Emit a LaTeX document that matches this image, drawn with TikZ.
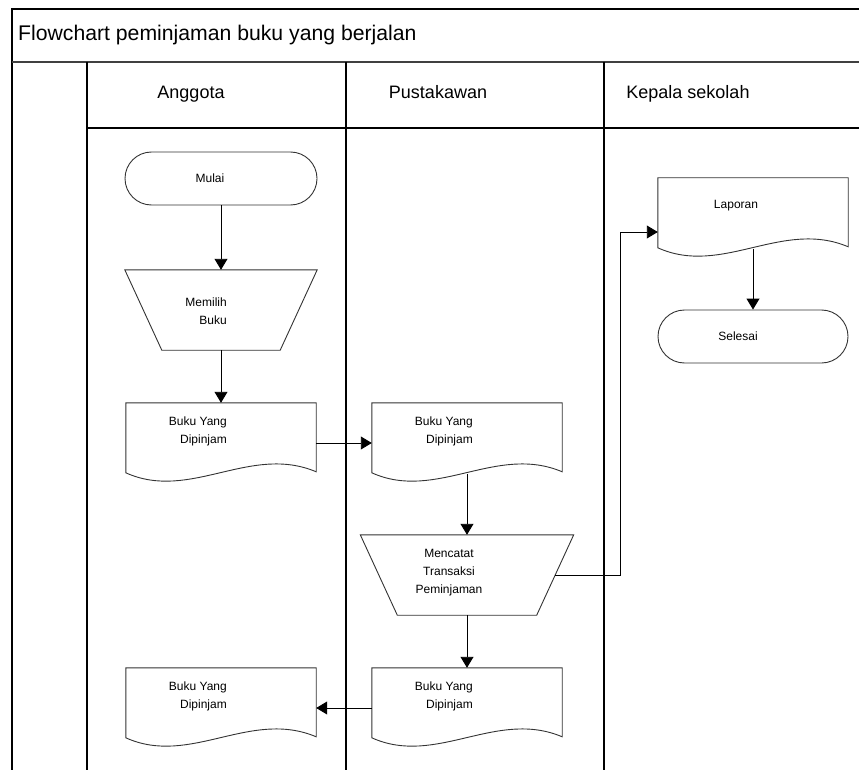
\documentclass[tikz,border=0pt]{standalone}
\usepackage{fontspec}
\setmainfont{Liberation Sans}
\usetikzlibrary{arrows.meta,shapes.misc}

\tikzset{
	lane/.style={line width=1.2pt},
	flow/.style={line width=0.9pt, -{Triangle[length=11pt,width=13pt]}},
	outline/.style={line width=0.9pt, draw=black!80},
	terminal/.style={rounded rectangle, draw=black!80, line width=0.9pt,
		minimum width=192pt, minimum height=53pt, inner sep=0pt},
	shapebox/.style={minimum height=80pt, inner sep=0pt},
	docbox/.style={shapebox, minimum width=190pt},
	txt/.style={font=\fontsize{12}{18}\selectfont, align=right, inner sep=0pt},
	head/.style={font=\fontsize{18}{21}\selectfont, inner sep=0pt}
}

% garis bawah bergelombang untuk simbol dokumen
\newcommand{\docshape}[1]{%
	\draw[outline] (#1.north west) -- (#1.north east) -- ([yshift=-69pt]#1.north east)
	.. controls ([shift={(-66pt,-41pt)}]#1.north east) and ([shift={(-126pt,-99pt)}]#1.north east)
	.. ([yshift=-70pt]#1.north west) -- cycle;}
% operasi manual (trapesium terbalik)
\newcommand{\manualshape}[1]{%
	\draw[outline] (#1.north west) -- (#1.north east) -- ([xshift=-37pt]#1.south east)
	-- ([xshift=37pt]#1.south west) -- cycle;}

\begin{document}
\begin{tikzpicture}[x=1pt, y=-1pt]
	\useasboundingbox (0,0) rectangle (859,770);
	
	% bingkai dan jalur
	\draw[lane] (859,9) -| (12,770);
	\draw[line width=2.5pt, draw=black!75] (12,62) -- (859,62);
	\draw[lane] (87,62) -- (87,770);
	\draw[lane] (346,62) -- (346,770);
	\draw[lane] (604,62) -- (604,770);
	\draw[lane] (87,128) -- (859,128);
	
	\node[anchor=base west, font=\fontsize{21.2}{24}\selectfont, inner sep=0pt] (judul)
		at (18,41) {Flowchart peminjaman buku yang berjalan};
	\node[head, anchor=base] (anggota) at (191,99) {Anggota};
	\node[head, anchor=base] (pustakawan) at (438,99) {Pustakawan};
	\node[head, anchor=base] (kepsek) at (688,99) {Kepala sekolah};
	
	% simbol
	\node[terminal] (mulai) at (221,178.5) {};
	\node[shapebox, minimum width=192pt] (memilih) at (221,310) {};
	\node[docbox] (doc1) at (221,443) {};
	\node[docbox] (doc2) at (467,443) {};
	\node[shapebox, minimum width=213pt] (mencatat) at (467,575) {};
	\node[docbox] (doc3) at (221,708) {};
	\node[docbox] (doc4) at (467,708) {};
	\node[docbox] (lap) at (753,218) {};
	\node[terminal, minimum width=190pt] (selesai) at (753,336.5) {};
	\manualshape{memilih}
	\manualshape{mencatat}
	\docshape{doc1}
	\docshape{doc2}
	\docshape{doc3}
	\docshape{doc4}
	\docshape{lap}
	
	% teks
	\node[txt] (mulaitxt) at (210,178) {Mulai};
	\node[txt, anchor=east] (memilihtxt) at (227,311) {Memilih\\Buku};
	\node[txt, anchor=east] (doc1txt) at (227,431) {Buku Yang\\Dipinjam};
	\node[txt, anchor=east] (doc2txt) at (473,431) {Buku Yang\\Dipinjam};
	\node[txt, align=center] (mencatattxt) at (449,573) {Mencatat\\Transaksi\\Peminjaman};
	\node[txt, anchor=east] (doc3txt) at (227,696) {Buku Yang\\Dipinjam};
	\node[txt, anchor=east] (doc4txt) at (473,696) {Buku Yang\\Dipinjam};
	\node[txt] (laportxt) at (736,206) {Laporan};
	\node[txt] (selesaitxt) at (738,336) {Selesai};
	
	% alur
	\coordinate (sudut) at (620,232);
	\draw[flow] (mulai) -- (memilih);
	\draw[flow] (memilih) -- (doc1);
	\draw[flow] (doc1.east) -- (doc2.west);
	\draw[flow] ([yshift=-71pt]doc2.north) -- (mencatat.north);
	\draw[flow] ([xshift=-18.5pt]mencatat.east) -| (sudut) -- ([yshift=-14pt]lap.west);
	\draw[flow] ([yshift=-71pt]lap.north) -- (selesai.north);
	\draw[flow] (mencatat) -- (doc4);
	\draw[flow] (doc4.west) -- (doc3.east);
	
\end{tikzpicture}
\end{document}
